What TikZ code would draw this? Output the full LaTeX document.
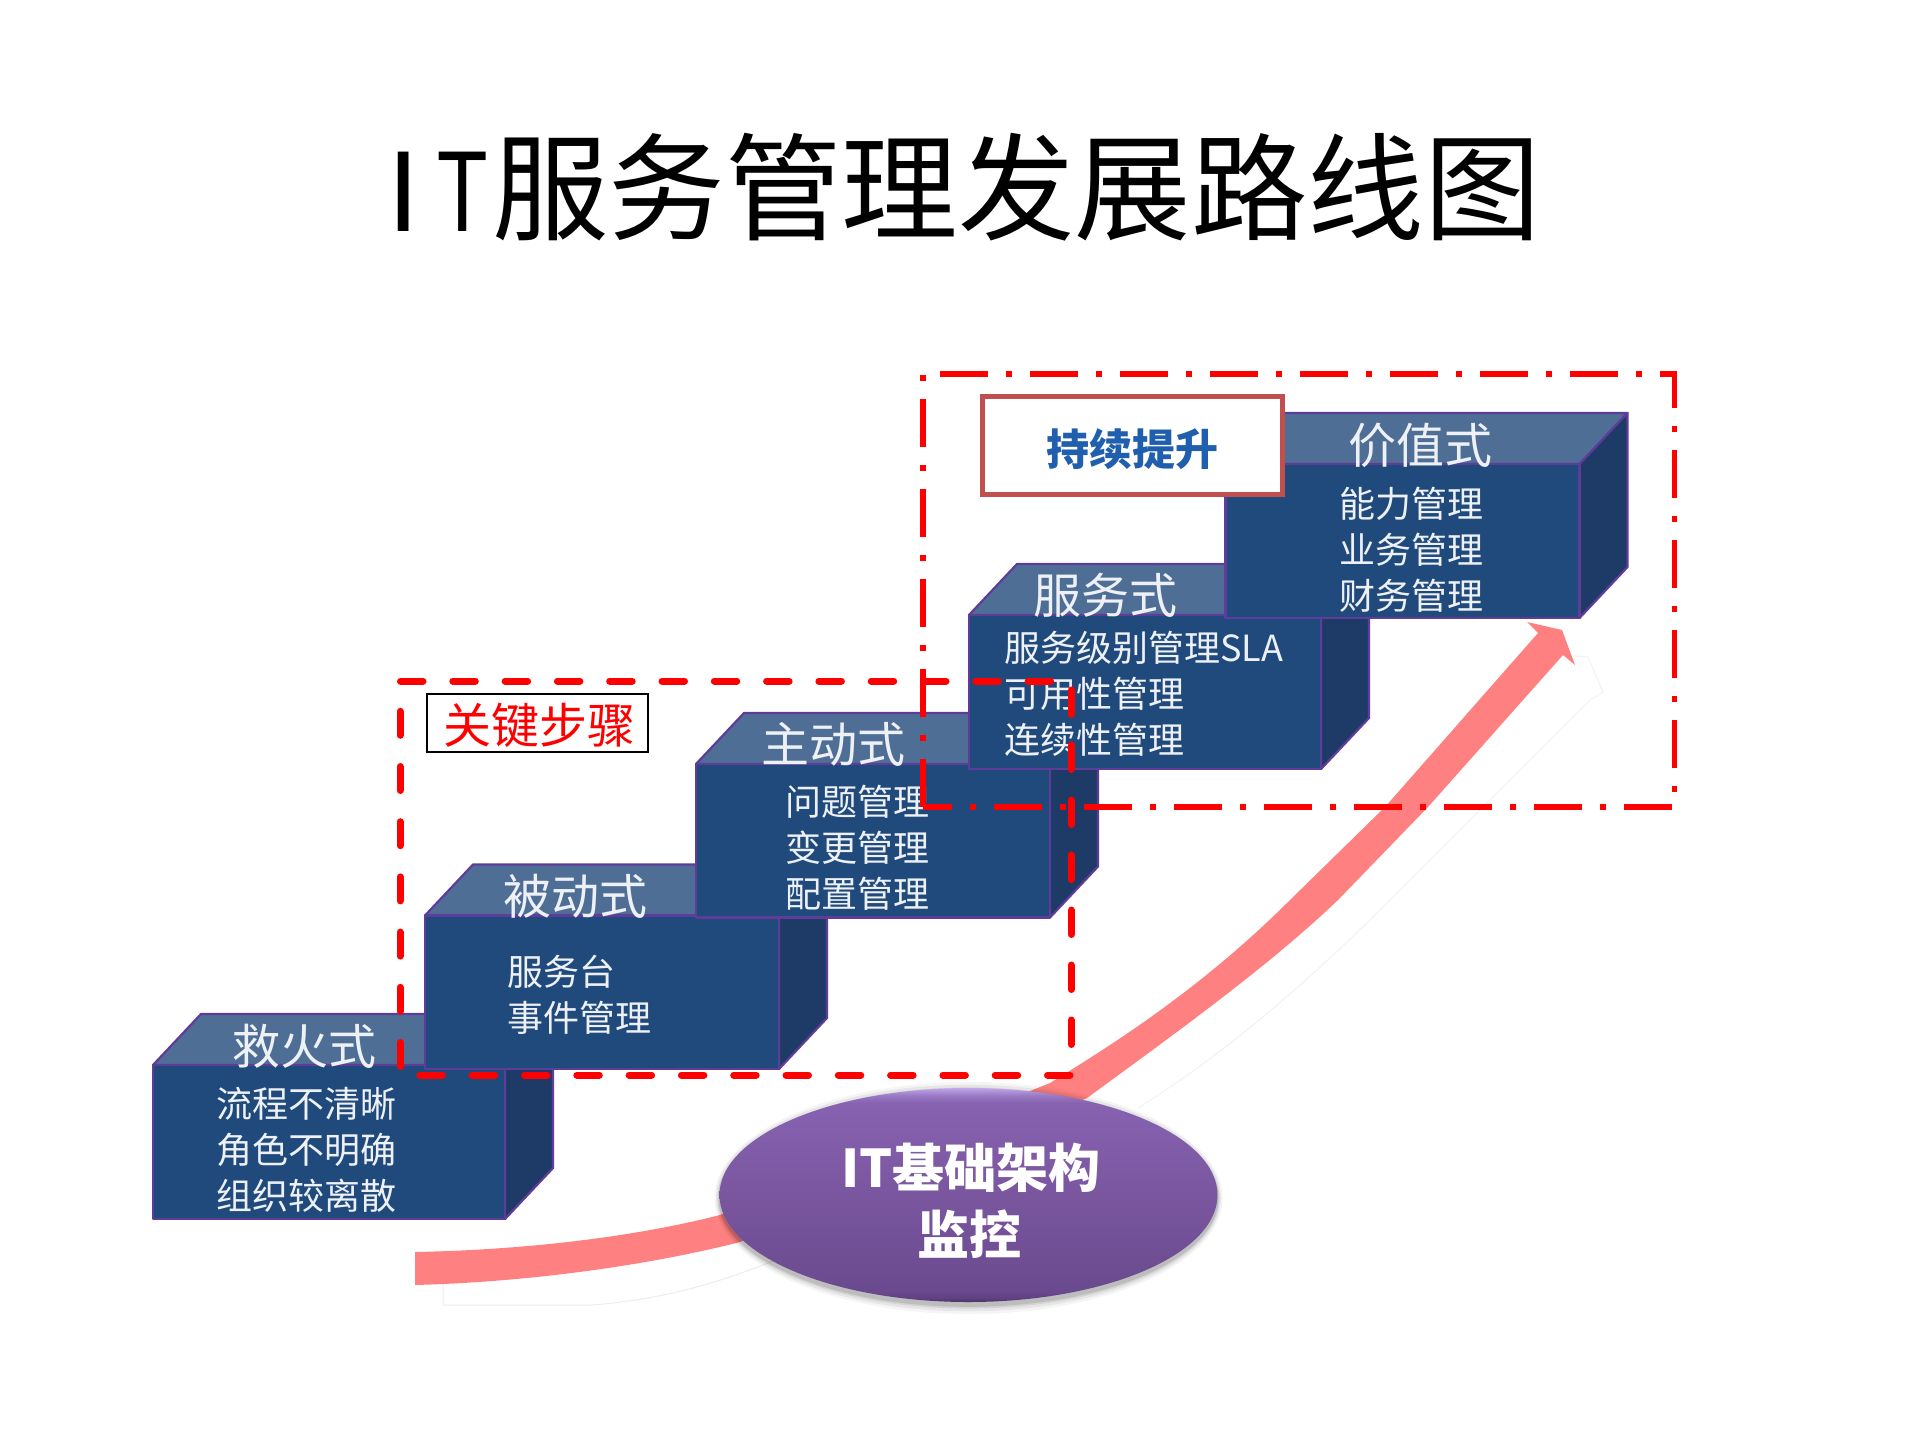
\documentclass[tikz,border=0pt]{standalone}
\usepackage{fontspec}
\setmainfont{Noto Sans CJK SC}
\usetikzlibrary{shapes.geometric}
\definecolor{frontblue}{HTML}{214A7C}
\definecolor{topblue}{HTML}{4F6E95}
\definecolor{sideblue}{HTML}{1D3B66}
\definecolor{edgepurple}{HTML}{5F3C9A}
\definecolor{bandpink}{HTML}{FF8080}
\definecolor{linered}{HTML}{FF0000}
\definecolor{boxred}{HTML}{C0504D}
\definecolor{keepblue}{HTML}{1F5FAE}
\definecolor{softwhite}{HTML}{EDF1F6}
\definecolor{ea}{HTML}{4A3268}
\definecolor{eb}{HTML}{5E4080}
\definecolor{ec}{HTML}{6A4A8E}
\definecolor{ed}{HTML}{7A569F}
\definecolor{ee}{HTML}{8762B1}
\definecolor{ef}{HTML}{9A7AC4}
\definecolor{eg}{HTML}{C0A6EA}
\pgfdeclareverticalshading{ellshade}{100bp}{
  color(0bp)=(ea); color(25bp)=(ea); color(25.8bp)=(eb); color(27.5bp)=(ec);
  color(50bp)=(ed); color(71.5bp)=(ee); color(73.3bp)=(ef); color(75bp)=(eg); color(100bp)=(eg)}
\newcommand{\stepblock}[6]{% left,right,top,bottom,dx,dy
  \fill[topblue,draw=edgepurple,line width=2.2pt,line join=round] (#1,#3) -- (#1+#5,#3-#6) -- (#2+#5,#3-#6) -- (#2,#3) -- cycle;
  \fill[sideblue,draw=edgepurple,line width=2.2pt,line join=round] (#2,#3) -- (#2+#5,#3-#6) -- (#2+#5,#4-#6) -- (#2,#4) -- cycle;
  \fill[frontblue,draw=edgepurple,line width=2.2pt,line join=round] (#1,#3) rectangle (#2,#4);
}
\tikzset{
  x=1pt,y=-1pt,
  headtext/.style={text=softwhite,inner sep=0pt,font=\fontsize{48}{48}\selectfont},
  bodytext/.style={text=softwhite,inner sep=0pt,font=\fontsize{36}{46}\selectfont,align=left},
  bodycenter/.style={bodytext,align=center},
  redround/.style={draw=linered,line width=7pt,line cap=round},
}
\begin{document}
\begin{tikzpicture}
\useasboundingbox (0,0) rectangle (1919,1439);
\fill[white] (0,0) rectangle (1919,1439);
% title
\node[inner sep=0pt,anchor=center,font=\fontsize{116.5}{116.5}\selectfont,text=black] (title) at (958,187)
  {\makebox[57pt]{\scalebox{1}[0.93]{I}}\makebox[60pt]{\scalebox{0.75}[0.93]{T}}服务管理发展路线图};
% faint reflection of the band
\draw[black!7,line width=1pt] (443,1278) -- (443,1305) -- (592,1305) .. controls (680,1298) and (740,1275) .. (800,1250);
\draw[black!5,line width=1pt] (1138,1108) .. controls (1230,1050) and (1310,980) .. (1390,900) -- (1590,700) -- (1603,692) -- (1588,657) -- (1563,655);
% band with its head
\fill[bandpink] (415,1252) .. controls (520,1250) and (630,1238) .. (720,1215)
  -- (1050,1083) .. controls (1110,1046) and (1200,990) .. (1290,900) -- (1385,807) -- (1538,633)
  -- (1527,622) -- (1562,630) -- (1575,665) -- (1563,655) -- (1428,807) -- (1338,900)
  .. controls (1270,965) and (1180,1030) .. (1087,1098)
  -- (740,1242) .. controls (650,1265) and (530,1282) .. (415,1285) -- cycle;
% steps
\stepblock{153}{505}{1065}{1219}{48}{51}
\stepblock{425}{779}{915.5}{1069}{48}{51}
\stepblock{696}{1050}{764}{917.5}{48}{51}
\stepblock{969}{1321}{615}{769}{48}{51}
\stepblock{1225.5}{1579.5}{464}{618}{48}{51}
\node[headtext] (h1) at (304,1046) {救火式};
\node[bodycenter] (b1) at (306,1150) {流程不清晰\\角色不明确\\组织较离散};
\node[headtext] (h2) at (575,896) {被动式};
\node[bodytext,anchor=west] (b2) at (507,994.5) {服务台\\事件管理};
\node[headtext] (h3) at (833,744) {主动式};
\node[bodycenter] (b3) at (857,847.5) {问题管理\\变更管理\\配置管理};
\node[headtext] (h4) at (1105,595.5) {服务式};
\node[bodytext,anchor=west] (b4) at (1004,694) {服务级别管理SLA\\可用性管理\\连续性管理};
\node[headtext] (h5) at (1420,445) {价值式};
\node[bodycenter] (b5) at (1411,550) {能力管理\\业务管理\\财务管理};
% ellipse
\foreach \g/\o in {10/0.04,7/0.06,4/0.08,2/0.10}{
  \fill[black,opacity=\o] (968.5,1198) ellipse [x radius=249+\g*0.5,y radius=107+\g*0.9];
}
\node[ellipse,draw=none,shading=ellshade,minimum width=498pt,minimum height=214pt,inner sep=0pt] (base) at (968.5,1195) {};
\node[inner sep=0pt,text=white,font=\bfseries\fontsize{52}{52}\selectfont] (e1) at (971,1168) {IT基础架构};
\node[inner sep=0pt,text=white,font=\bfseries\fontsize{52}{52}\selectfont] (e2) at (969,1234) {监控};
% labels
\node[draw=boxred,line width=5pt,fill=white,minimum width=300pt,minimum height=98pt,inner sep=0pt] (keep) at (1132.5,445) {};
\node[inner sep=0pt,text=keepblue,font=\bfseries\fontsize{43}{43}\selectfont] (keeptext) at (1132,449) {持续提升};
\node[draw=black,line width=2.5pt,fill=white,minimum width=221pt,minimum height=58pt,inner sep=0pt] (key) at (537.5,723) {};
\node[inner sep=0pt,text=linered,font=\fontsize{48}{48}\selectfont] (keytext) at (539.5,725) {关键步骤};
% dash-dot rectangle
\draw[linered,line width=5.3pt,dash pattern=on 48pt off 18pt on 6pt off 18pt] (923,807) -- (923,374) -- (1674.5,374) -- (1674.5,807) -- cycle;
% dashed rectangle
\draw[redround,dash pattern=on 22.5pt off 29.8pt] (400.5,681) -- (1071,681);
\draw[redround,dash pattern=on 24pt off 31.2pt] (400,1066.5) -- (400,700);
\draw[redround,dash pattern=on 24.5pt off 30.5pt] (1071,1044.5) -- (1071,690);
\draw[redround,dash pattern=on 22.5pt off 29.8pt] (1070,1075) -- (415,1075);
\end{tikzpicture}
\end{document}
